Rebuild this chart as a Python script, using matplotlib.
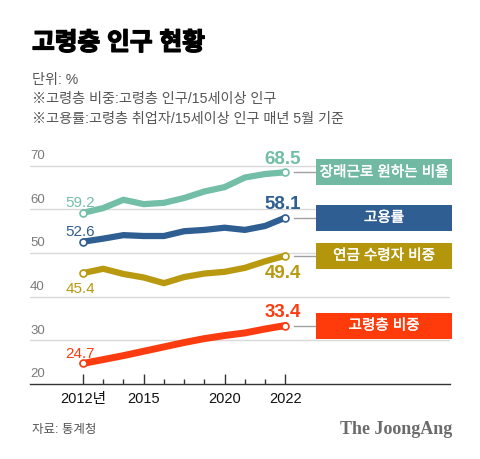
#!/usr/bin/env python3
"""
Recreate the JoongAng chart on the older population (2012-2022)
"""

import matplotlib
matplotlib.use('Agg')
import matplotlib.pyplot as plt
import matplotlib.patheffects as pe
from matplotlib.patches import Rectangle

plt.rcParams['font.family'] = ['Liberation Sans', 'Noto Sans CJK KR', 'DejaVu Sans']

# Data
years = ['2012', '2013', '2014', '2015', '2016', '2017', '2018', '2019', '2020', '2021', '2022']
tick_idx = [0, 3, 7, 10]
tick_labels = ['2012년', '2015', '2020', '2022']
y_ticks = [20, 30, 40, 50, 60, 70]

series_names = ['장래근로 원하는 비율', '고용률', '연금 수령자 비중', '고령층 비중']
want_work = [59.2, 60.3, 62.2, 61.2, 61.5, 62.6, 64.1, 65.1, 67.3, 68.1, 68.5]
employment = [52.6, 53.3, 54.1, 53.9, 53.9, 55.0, 55.3, 55.8, 55.3, 56.2, 58.1]
pension = [45.4, 46.4, 45.2, 44.4, 43.1, 44.5, 45.3, 45.7, 46.6, 48.1, 49.4]
elderly_share = [24.7, 25.6, 26.5, 27.5, 28.5, 29.5, 30.4, 31.1, 31.7, 32.6, 33.4]
series = [want_work, employment, pension, elderly_share]

# Styles
line_colors = ['#72bea6', '#2f5e92', '#b8990f', '#fb3c10']
box_colors = ['#72b9a3', '#2f5f92', '#b3960c', '#ff3b0b']
start_below = [False, False, True, False]
end_below = [False, False, True, False]
line_widths = [4.5, 4.5, 4.5, 5.0]

fig = plt.figure(figsize=(4.8, 4.6), dpi=100)
fig.patch.set_facecolor('white')

# axes placed so index 0 -> x=83px, index 10 -> x=285px
px_per_idx = 20.23
x0_px = 83
ax = fig.add_axes([30 / 480, 75 / 460, 420 / 480, 227 / 460])
ax.set_xlim((30 - x0_px) / px_per_idx, (450 - x0_px) / px_per_idx)
ax.set_ylim(20, 72)

for s in ['top', 'right', 'left']:
    ax.spines[s].set_visible(False)
ax.spines['bottom'].set_color('#333333')
ax.spines['bottom'].set_linewidth(1.0)

# grid
for v in y_ticks[1:]:
    ax.axhline(v, color='#d9d9d9', lw=1.0, zorder=0)
ax.set_yticks([])
for v in y_ticks:
    ax.text(0.0, v + 1.1, str(v), transform=ax.get_yaxis_transform(),
            ha='left', va='bottom', fontsize=9.5, color='#7a7a7a')

# x ticks
x = list(range(len(years)))
ax.set_xticks(tick_idx)
ax.set_xticklabels(tick_labels, fontsize=10.5, color='#111111')
ax.set_xticks(x, minor=True)
ax.tick_params(axis='x', which='major', direction='in', length=7.5, width=1.0,
               color='#333333', pad=5)
ax.tick_params(axis='x', which='minor', direction='in', length=3.8, width=1.0,
               color='#333333')

box_x0 = (316 - x0_px) / px_per_idx
box_w = 136 / px_per_idx
box_h = 26 / 4.366
conn_x0 = (294 - x0_px) / px_per_idx

for i, vals in enumerate(series):
    c = line_colors[i]
    ax.plot(x, vals, color=c, lw=line_widths[i], solid_joinstyle='round',
            solid_capstyle='round', zorder=3)
    ax.plot([x[0], x[-1]], [vals[0], vals[-1]], 'o', ms=5, mfc='white',
            mec=c, mew=1.2, zorder=4)

    # start label
    off = -6 if start_below[i] else 5
    ax.annotate(f'{vals[0]}', (x[0], vals[0]), xytext=(-2, off),
                textcoords='offset points', ha='center',
                va='top' if start_below[i] else 'baseline',
                fontsize=11, color=c)
    # end label
    off = -6 if end_below[i] else 7
    ax.annotate(f'{vals[-1]}', (x[-1], vals[-1]), xytext=(-2, off),
                textcoords='offset points', ha='center',
                va='top' if end_below[i] else 'baseline',
                fontsize=13.5, fontweight='bold', color=c)

    # connector and legend box
    ax.plot([conn_x0, box_x0], [vals[-1], vals[-1]], color='#a0a0a0', lw=1.0,
            clip_on=False, zorder=2)
    ax.add_patch(Rectangle((box_x0, vals[-1] - box_h / 2), box_w, box_h,
                           facecolor=box_colors[i], edgecolor='none',
                           clip_on=False, zorder=2))
    ax.text(box_x0 + box_w / 2, vals[-1], series_names[i], ha='center',
            va='center', fontsize=10.5, color='white', zorder=5,
            path_effects=[pe.withStroke(linewidth=0.3, foreground='white')])

# titles
fig.text(32 / 480, 1 - 44 / 460, '고령층 인구 현황', fontsize=17.8,
         fontweight='bold', color='black', va='center', ha='left',
         path_effects=[pe.withStroke(linewidth=1.0, foreground='black')])
subs = ['단위: %', '※고령층 비중:고령층 인구/15세이상 인구',
        '※고용률:고령층 취업자/15세이상 인구 매년 5월 기준']
for j, t in enumerate(subs):
    fig.text(32 / 480, 1 - (80 + 19.3 * j) / 460, t, fontsize=10.2,
             color='#555555', va='center', ha='left')

# footer
fig.text(32 / 480, 1 - 430 / 460, '자료: 통계청', fontsize=9,
         color='#555555', va='center', ha='left')
fig.text(452 / 480, 1 - 430 / 460, 'The JoongAng', fontsize=13,
         family='Liberation Serif', fontweight='bold', color='#6b6b6b',
         va='center', ha='right')

fig.savefig('out.png', dpi=100)
